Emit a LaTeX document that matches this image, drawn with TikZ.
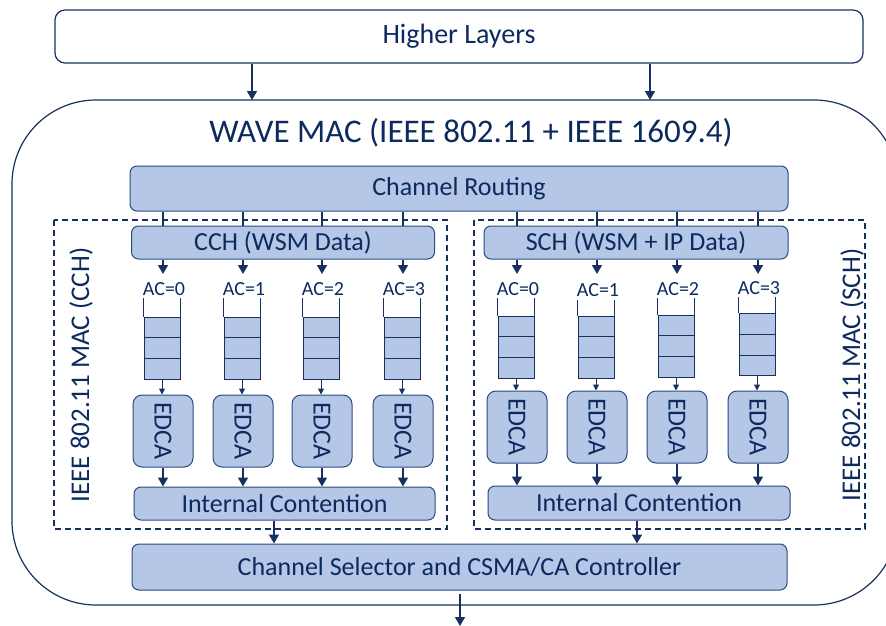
\documentclass[tikz,border=0pt]{standalone}
\usepackage{fontspec}
\setmainfont{Carlito}
\usetikzlibrary{arrows.meta,calc}
\definecolor{navy}{HTML}{18305F}
\definecolor{boxfill}{HTML}{B4C7E7}
\definecolor{boxline}{HTML}{2C4A80}
\definecolor{inktext}{HTML}{0C2A5E}

\begin{document}
\begin{tikzpicture}[x=1pt,y=-1pt,
  blk/.style={draw=boxline, fill=boxfill, rounded corners=7pt, line width=1pt,
    inner sep=0pt, text=inktext, font=\fontsize{26}{30}\selectfont},
  edca/.style={blk, rounded corners=9pt, minimum width=60pt, minimum height=72pt,
    font=\fontsize{26}{30}\selectfont},
  queue/.style={draw=navy, fill=boxfill, line width=1pt, inner sep=0pt,
    minimum width=36pt, minimum height=62pt},
  aclabel/.style={inner xsep=0pt, inner ysep=3pt, text height=13pt, text depth=0pt,
    text=inktext, font=\fontsize{20}{24}\selectfont},
  dashbox/.style={draw=navy, line width=1.3pt, dash pattern=on 6pt off 4pt},
  bigarrow/.style={draw=navy, line width=1.6pt, -{Triangle[length=9pt,width=10pt]}},
  smallarrow/.style={draw=navy, line width=1pt, -{Triangle[length=6pt,width=6pt]}},
  plainline/.style={draw=navy, line width=1.2pt},
  sidelabel/.style={text=inktext, font=\fontsize{27}{32}\selectfont, inner sep=0pt}
]
\useasboundingbox (0,0) rectangle (886,626);
\clip (0,0) rectangle (886,626);

% top layer and the WAVE MAC frame (its right side runs off the page)
\node[draw=navy, fill=white, rounded corners=10pt, line width=1.2pt, inner sep=0pt,
  minimum width=808pt, minimum height=53pt, text=inktext,
  font=\fontsize{28}{32}\selectfont] (hl) at (459,36.5) {Higher Layers};
\draw[navy, line width=1.2pt, rounded corners=84pt] (12,100) rectangle (898,605);
\coordinate (wavetop) at (0,100);
\node[text=inktext, font=\fontsize{33}{38}\selectfont, inner sep=0pt] (title)
  at (471,133) {WAVE MAC (IEEE 802.11 + IEEE 1609.4)};

\coordinate (h1) at (252,0);
\coordinate (h2) at (650,0);
\draw[bigarrow] (hl.south -| h1) -- (wavetop -| h1);
\draw[bigarrow] (hl.south -| h2) -- (wavetop -| h2);

% channel routing
\node[blk, minimum width=658pt, minimum height=45pt] (cr) at (459,188.5) {Channel Routing};

% the two MAC halves
\draw[dashbox] (54,220) rectangle (447,529);
\draw[dashbox] (474,220) rectangle (865,529);
\node[sidelabel, rotate=90] (lcch) at (81,375) {IEEE 802.11 MAC (CCH)};
\node[sidelabel, rotate=90] (lsch) at (852,375) {IEEE 802.11 MAC (SCH)};

\node[blk, minimum width=303pt, minimum height=33pt] (cch) at (283,242.5) {CCH (WSM Data)};
\node[blk, minimum width=304pt, minimum height=33pt] (sch) at (636,242.5) {SCH (WSM + IP Data)};

% CCH access categories
\foreach \i/\x in {0/163, 1/243, 2/322, 3/403} {
  \coordinate (lc\i) at (\x,0);
  \coordinate (lt\i) at (\x,274);
  \draw[plainline] (cr.south -| lc\i) -- (cch.north -| lc\i);
  \node[aclabel] (lac\i) at (\x+1,288.5) {AC=\i};
  \draw[bigarrow] (cch.south -| lc\i) -- (lt\i);
  \node[queue] (lq\i) at (\x-1,348) {};
  \draw[navy, line width=1pt] (lq\i.north west) -- (lq\i.north west |- lac\i.south)
    (lq\i.north east) -- (lq\i.north east |- lac\i.south);
  \draw[navy, line width=1pt]
    ($(lq\i.north west)!1/3!(lq\i.south west)$) -- ($(lq\i.north east)!1/3!(lq\i.south east)$)
    ($(lq\i.north west)!2/3!(lq\i.south west)$) -- ($(lq\i.north east)!2/3!(lq\i.south east)$);
  \node[edca] (le\i) at (\x,431) {\rotatebox{-90}{EDCA}};
  \draw[smallarrow] (lq\i.south) -- (lq\i.south |- le\i.north);
}

% SCH access categories
\foreach \i/\x/\qy/\ay in {0/517/347/288.5, 1/597/347/290, 2/677/346/288.5, 3/758/344.5/287.5} {
  \coordinate (rc\i) at (\x,0);
  \coordinate (rt\i) at (\x,274);
  \draw[plainline] (cr.south -| rc\i) -- (sch.north -| rc\i);
  \node[aclabel] (rac\i) at (\x+1,\ay) {AC=\i};
  \draw[bigarrow] (sch.south -| rc\i) -- (rt\i);
  \node[queue] (rq\i) at (\x-1,\qy) {};
  \draw[navy, line width=1pt] (rq\i.north west) -- (rq\i.north west |- rac\i.south)
    (rq\i.north east) -- (rq\i.north east |- rac\i.south);
  \draw[navy, line width=1pt]
    ($(rq\i.north west)!1/3!(rq\i.south west)$) -- ($(rq\i.north east)!1/3!(rq\i.south east)$)
    ($(rq\i.north west)!2/3!(rq\i.south west)$) -- ($(rq\i.north east)!2/3!(rq\i.south east)$);
  \node[edca] (re\i) at (\x,427) {\rotatebox{-90}{EDCA}};
  \draw[smallarrow] (rq\i.south) -- (rq\i.south |- re\i.north);
}

% internal contention
\node[blk, minimum width=301pt, minimum height=33pt] (icl) at (284.5,503.5) {Internal Contention};
\node[blk, minimum width=302pt, minimum height=34pt] (icr) at (639,503) {Internal Contention};
\foreach \i in {0,...,3} {
  \draw[bigarrow] (le\i.south) -- (le\i.south |- icl.north);
  \draw[bigarrow] (re\i.south) -- (re\i.south |- icr.north);
}

% channel selector
\node[blk, minimum width=655pt, minimum height=46pt] (sel) at (459.5,567)
  {Channel Selector and CSMA/CA Controller};
\coordinate (s1) at (274,0);
\coordinate (s2) at (637,0);
\draw[bigarrow] (icl.south -| s1) -- (sel.north -| s1);
\draw[bigarrow] (icr.south -| s2) -- (sel.north -| s2);

\coordinate (out) at (460,626);
\draw[bigarrow] ([yshift=-3pt]sel.south -| out) -- (out);
\end{tikzpicture}
\end{document}
